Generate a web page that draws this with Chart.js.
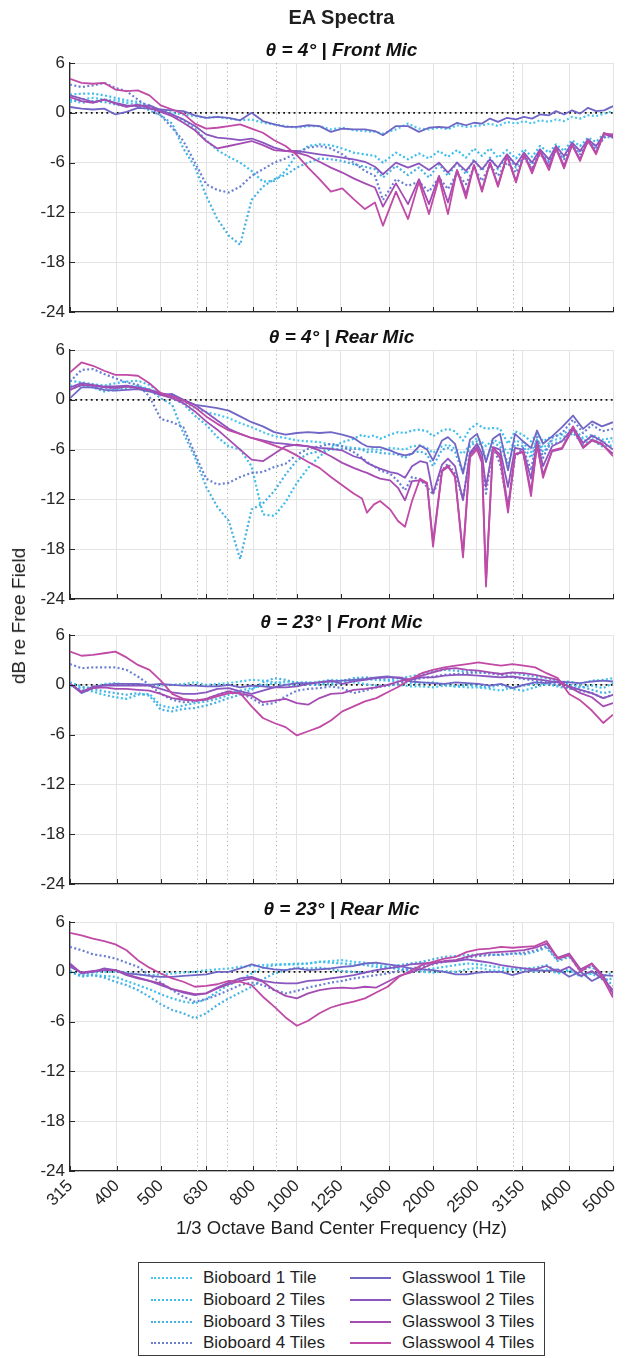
<!DOCTYPE html>
<html>
<head>
<meta charset="utf-8">
<title>EA Spectra</title>
<script src="https://cdn.jsdelivr.net/npm/chart.js@4.4.1/dist/chart.umd.min.js"></script>
<style>
  body { margin: 0; background: #fff; }
  #fig {
    position: relative; width: 627px; height: 1358px; overflow: hidden;
    font-family: "Liberation Sans", Arial, Helvetica, sans-serif; color: #1f1f1f;
  }
  #fig canvas { position: absolute; left: 0; }
  .main-title { position: absolute; left: 0; width: 683px; top: 5px; text-align: center; font-weight: bold; font-size: 20px; line-height: 24px; }
  .x-title { position: absolute; left: 0; width: 683px; top: 1217px; text-align: center; font-size: 18.5px; line-height: 22px; }
  .y-title { position: absolute; left: 19px; top: 616px; transform: translate(-50%, -50%) rotate(-90deg); white-space: nowrap; font-size: 19px; }
  #legend { position: absolute; left: 138px; top: 1262px; width: 405px; height: 92px; border: 1px solid #3a3a3a; background: #fff; }
  .item { position: absolute; height: 20px; font-size: 17px; line-height: 20px; white-space: nowrap; }
  .swatch { position: absolute; top: 9px; width: 41px; height: 0; }
  .label { position: absolute; top: 0; }
</style>
</head>
<body>
<div id="fig">
  <div class="main-title">EA Spectra</div>
  <div class="y-title">dB re Free Field</div>
  <div class="x-title">1/3 Octave Band Center Frequency (Hz)</div>
  <div id="legend"></div>
</div>
<script>
// frequency axis ticks and the dotted reference lines (Hz)
const xTicks = [315, 400, 500, 630, 800, 1000, 1250, 1600, 2000, 2500, 3150, 4000, 5000];
const yTicks = [-24, -18, -12, -6, 0, 6];
const refFreqs = [600, 700, 900, 3000];

const seriesNames = ['Bioboard 1 Tile', 'Bioboard 2 Tiles', 'Bioboard 3 Tiles', 'Bioboard 4 Tiles',
                     'Glasswool 1 Tile', 'Glasswool 2 Tiles', 'Glasswool 3 Tiles', 'Glasswool 4 Tiles'];
const seriesColors = ['#49c6ee', '#3dbdeb', '#46b0e4', '#6a7fd4', '#7066c6', '#8a56bf', '#a54cb3', '#c04aa6'];

// theta = 4 deg, front mic
const p1Freq = [315,334,354,375,397,420,445,472,500,530,561,595,630,667,707,749,794,841,891,944,
  1000,1059,1122,1189,1260,1335,1414,1488,1550,1656,1761,1862,1959,2062,2158,2260,2365,2464,2566,2673,
  2784,2915,3051,3178,3311,3448,3610,3741,3897,4059,4227,4403,4587,4778,5000];
const p1Bio1 = [1.3,1.6,1.8,1.6,1.5,1.2,1.0,0.8,0.3,0.0, -0.2,-0.4,-0.6,-0.5,-0.7,-0.9,-0.8,-1.2,-1.4,-1.6,
  -1.8,-1.6,-1.6,-2.0,-1.8,-2.1,-2.2,-2.3,-2.5,-2.0, -1.3,-1.9,-2.0,-1.8,-2.0,-1.5,-1.7,-1.6,-1.5,-1.3,
  -1.6,-1.1,-1.3,-1.0,-1.3,-0.9,-1.1,-0.8,-1.0,-0.5, -0.7,-0.3,-0.4,-0.1,0.2];
const p1Bio2 = [2.2,2.3,2.3,2.1,1.8,1.5,1.3,0.9,0.3,-0.3, -0.9,-1.9,-3.3,-4.5,-5.3,-6.0,-7.0,-8.3,-8.2,-7.0,
  -5.0,-4.0,-3.8,-3.9,-4.3,-4.8,-5.0,-5.2,-6.0,-4.8, -5.6,-4.9,-5.5,-4.6,-5.3,-4.5,-5.4,-4.3,-5.2,-4.3,
  -5.4,-4.5,-5.5,-4.4,-5.3,-4.0,-4.8,-3.8,-4.6,-3.3, -4.0,-3.0,-3.5,-2.5,-2.8];
const p1Bio3 = [1.6,1.2,1.4,1.3,1.0,0.8,0.9,0.3,-0.3,-1.3, -4.3,-6.5,-10.0,-12.8,-14.8,-15.9,-10.5,-8.9,-8.0,-7.5,
  -6.6,-6.0,-5.5,-5.6,-5.8,-6.2,-6.5,-6.8,-7.8,-6.4, -7.5,-6.6,-7.8,-6.2,-7.6,-6.0,-7.4,-5.6,-7.0,-5.4,
  -6.8,-5.2,-6.6,-5.0,-6.2,-4.6,-5.8,-4.3,-5.4,-3.8, -4.8,-3.4,-4.2,-2.9,-3.0];
const p1Bio4 = [3.4,3.1,3.3,3.6,3.0,2.6,1.6,0.6,-0.3,-1.8, -3.4,-6.0,-8.6,-9.3,-9.6,-8.9,-7.6,-6.8,-6.0,-5.5,
  -4.8,-4.2,-4.0,-4.3,-5.0,-6.0,-7.0,-7.6,-10.5,-8.0, -8.8,-8.3,-9.5,-7.8,-9.2,-7.3,-8.6,-6.6,-8.2,-6.3,
  -7.6,-6.0,-7.2,-5.5,-6.6,-5.0,-6.0,-4.6,-5.6,-4.0, -5.0,-3.6,-4.4,-3.0,-2.6];
const p1Glass1 = [0.7,0.5,0.4,0.5,-0.2,0.1,0.6,0.5,0.4,0.3, 0.2,-0.3,-0.6,-0.5,-0.6,-0.9,0.0,-1.0,-1.4,-1.7,
  -1.7,-1.5,-1.6,-2.3,-1.9,-2.0,-2.0,-2.2,-2.7,-1.6, -1.6,-2.3,-1.8,-1.7,-1.8,-1.2,-1.5,-1.2,-1.3,-0.7,
  -1.1,-0.6,-0.8,-0.5,-0.7,-0.2,-0.3,0.2,-0.2,0.3, -0.1,0.6,0.2,0.3,0.8];
const p1Glass2 = [2.1,1.7,1.3,1.6,1.2,0.9,0.8,0.9,0.3,-0.2, -0.8,-1.6,-2.6,-3.0,-3.1,-3.3,-3.1,-3.6,-4.2,-4.6,
  -4.6,-4.8,-5.0,-5.2,-5.4,-5.6,-5.9,-6.5,-7.4,-6.0, -6.6,-6.1,-6.9,-6.0,-7.2,-6.0,-7.0,-5.8,-6.8,-5.6,
  -6.6,-5.0,-6.3,-4.8,-6.0,-4.4,-5.6,-4.0,-5.2,-3.6, -4.6,-3.2,-4.0,-2.6,-2.8];
const p1Glass3 = [1.9,1.4,1.2,1.6,1.1,0.7,1.0,0.6,0.1,-0.4, -1.2,-2.1,-3.4,-4.3,-4.0,-3.7,-3.4,-3.9,-4.5,-4.6,
  -4.8,-5.2,-5.9,-6.6,-7.2,-7.9,-8.5,-9.0,-11.3,-8.5, -11.0,-8.0,-11.0,-7.6,-10.8,-6.9,-9.8,-6.3,-9.3,-6.0,
  -8.7,-5.1,-8.2,-5.0,-7.0,-4.6,-6.5,-4.2,-6.4,-3.8, -5.6,-3.2,-4.8,-2.4,-3.0];
const p1Glass4 = [4.1,3.6,3.5,3.6,2.8,2.6,2.7,2.1,0.9,0.4, -0.1,-1.3,-1.9,-1.8,-1.6,-1.4,-1.9,-2.4,-3.3,-4.0,
  -5.1,-6.6,-8.0,-9.5,-9.1,-10.4,-11.6,-10.8,-13.6,-9.5, -12.8,-8.3,-12.2,-7.9,-12.2,-6.9,-10.3,-6.3,-9.5,-6.0,
  -8.9,-5.2,-8.4,-5.0,-7.3,-4.7,-6.9,-4.3,-6.7,-3.9, -5.8,-3.3,-5.0,-2.5,-2.6];

// theta = 4 deg, rear mic
const p2Freq = [315,334,354,375,397,420,445,472,500,530,561,595,630,667,707,749,794,841,891,944,
  1000,1059,1122,1189,1260,1335,1393,1429,1481,1527,1607,1673,1734,1797,1872,1940,2000,2094,2158,2237,
  2330,2414,2502,2566,2619,2714,2813,2930,3036,3162,3294,3396,3502,3666,3857,4079,4293,4494,4728,5000];
const p2Bio1 = [1.7,1.6,1.5,1.4,1.3,1.6,1.7,1.3,0.7,0.3, -0.3,-1.0,-1.5,-1.8,-2.2,-2.8,-3.3,-3.9,-4.4,-4.6,
  -4.9,-5.0,-5.1,-5.4,-5.6,-5.8, -5.9,-6.0,-5.9,-6.1,-5.8,-5.9,-6.0,-5.6,-5.5,-5.8,
  -6.4,-5.6,-5.4,-5.9,-6.5,-5.4,-4.6,-5.1,-5.6,-4.8, -5.2,-6.4,-4.9,-5.2,-6.3,-4.8,-5.8,-4.9,-4.6,-3.8,
  -5.0,-4.5,-5.2,-5.0];
const p2Bio2 = [2.3,2.1,1.9,1.7,2.0,2.2,2.3,1.8,0.8,0.2, -0.5,-1.9,-3.0,-4.5,-5.6,-6.0,-8.0,-13.8,-14.0,-12.3,
  -10.0,-8.2,-6.8,-5.8,-5.1,-4.7, -4.2,-4.5,-4.3,-4.7,-4.2,-3.9,-4.0,-3.7,-3.6,-3.8,
  -4.4,-3.7,-3.5,-3.8,-4.9,-3.5,-2.9,-3.3,-3.5,-3.4, -3.5,-5.3,-3.8,-4.2,-5.0,-4.1,-5.0,-4.4,-4.2,-3.4,
  -4.6,-4.2,-4.8,-4.6];
const p2Bio3 = [1.2,1.8,1.5,1.0,1.2,1.4,1.6,1.2,0.2,-0.6, -4.0,-6.9,-10.5,-12.9,-14.6,-19.2,-13.2,-12.5,-11.0,-9.0,
  -7.3,-6.5,-6.2,-6.0,-5.9,-5.9, -6.0,-6.3,-6.2,-6.4,-6.5,-6.6,-7.0,-6.4,-6.2,-6.6,
  -8.0,-6.0,-5.8,-6.3,-8.8,-5.6,-5.0,-5.6,-7.2,-5.2, -5.6,-7.6,-5.4,-5.6,-7.0,-5.0,-6.3,-5.3,-5.0,-4.0,
  -5.4,-4.8,-5.6,-5.5];
const p2Bio4 = [2.2,3.6,3.7,3.1,2.6,2.1,1.8,0.4,-2.3,-2.7, -3.3,-6.5,-9.5,-10.2,-10.0,-9.3,-8.8,-8.7,-8.1,-7.7,
  -6.6,-5.9,-5.6,-5.3,-5.6,-6.3, -7.0,-7.5,-8.0,-8.5,-8.9,-9.8,-10.9,-9.3,-9.6,-10.5,
  -11.4,-8.5,-7.7,-8.9,-11.9,-6.8,-5.5,-7.5,-11.3,-5.7, -7.7,-12.9,-6.9,-5.8,-8.5,-4.5,-7.0,-4.6,-4.0,-2.4,
  -4.0,-3.0,-3.8,-3.5];
const p2Glass1 = [0.2,1.5,1.5,1.2,1.1,1.2,1.3,1.0,0.6,0.7, 0.0,-0.6,-0.8,-1.0,-1.3,-2.0,-2.7,-3.2,-3.9,-4.2,
  -4.0,-3.9,-4.0,-3.9,-4.2,-4.6, -5.3,-5.6,-5.7,-5.7,-6.1,-6.5,-6.7,-6.5,-5.5,-6.0,
  -7.3,-4.9,-4.5,-5.3,-8.9,-4.8,-4.1,-5.7,-7.5,-4.7, -4.1,-8.5,-4.1,-5.0,-5.8,-3.7,-5.3,-4.4,-3.3,-1.9,
  -3.5,-2.6,-3.2,-2.7];
const p2Glass2 = [1.5,2.0,1.8,1.6,1.6,1.7,1.5,1.2,0.8,0.5, 0.0,-0.6,-1.5,-2.5,-3.5,-4.1,-4.6,-4.9,-5.2,-5.3,
  -5.5,-5.6,-5.8,-5.9,-6.1,-6.8, -7.1,-7.6,-8.0,-8.3,-8.7,-8.9,-9.4,-8.0,-7.4,-7.6,
  -11.3,-7.8,-7.1,-8.0,-12.1,-6.4,-5.3,-6.5,-10.5,-5.7, -6.0,-10.5,-5.8,-6.0,-9.5,-5.0,-8.0,-5.6,-5.0,-3.3,
  -5.2,-4.3,-5.0,-6.0];
const p2Glass3 = [1.2,1.8,1.7,1.5,1.4,1.6,1.4,1.2,0.6,0.2, -0.4,-1.4,-2.6,-3.6,-4.8,-6.0,-7.2,-7.4,-6.5,-5.6,
  -5.4,-5.6,-6.1,-6.8,-7.6,-8.2, -8.6,-8.8,-9.2,-9.5,-9.7,-10.6,-12.1,-9.8,-9.7,-10.1,
  -17.1,-8.6,-8.1,-9.2,-18.5,-6.6,-5.7,-7.2,-21.8,-5.8, -6.6,-12.9,-6.6,-6.3,-11.0,-5.5,-9.0,-6.2,-5.9,-3.5,
  -5.8,-4.9,-5.4,-6.5];
const p2Glass4 = [3.3,4.5,4.1,3.5,3.0,3.0,2.9,2.0,0.8,0.4, -0.1,-0.9,-2.0,-2.9,-3.7,-4.1,-4.6,-5.0,-5.5,-6.0,
  -6.7,-7.5,-8.2,-9.3,-10.3,-11.3, -11.9,-13.6,-12.6,-12.2,-13.2,-14.6,-15.3,-12.2,-9.5,-10.0,
  -17.7,-8.5,-7.9,-9.3,-19.0,-6.9,-6.0,-7.6,-22.5,-5.8, -7.0,-13.6,-6.5,-6.2,-11.6,-5.3,-9.4,-6.1,-5.8,-3.2,
  -5.7,-4.8,-5.3,-6.8];

// theta = 23 deg panels share a 1/12-octave grid
const gridFreq = [315,334,354,375,397,420,445,472,500,530,561,595,630,667,707,749,794,841,891,944,
  1000,1059,1122,1189,1260,1335,1414,1498,1587,1682,1782,1888,2000,2119,2245,2378,2520,2670,2828,2997,
  3175,3364,3564,3776,4000,4238,4490,4757,5000];

// theta = 23 deg, front mic
const p3Bio1 = [-0.1,-0.4,-0.3,0.1,0.2,0.0,0.0,-0.1,-0.1,0.0, 0.1,0.3,0.0,0.1,0.2,0.4,0.6,0.5,0.3,0.0,
  -0.1,0.1,0.4,0.6,0.5,0.3,0.1,-0.1,-0.1,0.0, -0.2,-0.2,-0.3,-0.1,-0.2,-0.3,-0.3,-0.5,-0.7,-0.3,
  -0.1,0.1,0.2,0.3,0.4,0.1,0.5,0.6,0.8];
const p3Bio2 = [0.0,-0.6,-0.8,-1.2,-1.5,-1.7,-1.2,-1.1,-2.5,-2.8, -2.5,-2.2,-2.0,-1.7,-1.2,-0.7,-0.4,-0.1,0.2,0.4,
  0.3,0.3,0.2,0.0,0.3,0.6,0.7,0.6,0.5,0.4, 0.2,0.2,0.3,0.0,-0.2,0.0,-0.2,-0.3,0.0,-0.5,
  -0.7,-0.3,0.1,-0.2,-0.5,-0.3,-0.1,-0.4,0.2];
const p3Bio3 = [0.3,-0.2,-0.5,-0.8,-1.0,-1.2,-1.0,-1.3,-3.0,-3.2, -2.9,-2.8,-2.5,-2.1,-1.6,-1.2,-0.6,0.3,0.8,0.6,
  0.2,0.0,0.0,0.2,0.5,0.8,0.9,0.8,0.6,0.8, 1.0,1.3,1.6,1.8,1.7,1.6,1.5,1.4,1.3,1.4,
  1.2,1.0,0.8,0.5,0.0,-0.2,-0.6,-1.0,-0.8];
const p3Bio4 = [2.5,2.0,2.1,2.1,2.1,1.8,1.0,0.0,-1.1,-1.8, -2.1,-2.0,-1.7,-1.2,-0.8,-1.0,-1.6,-2.4,-2.2,-1.4,
  -0.7,-0.5,-0.4,-0.2,-0.4,-1.0,-0.7,-0.3,-0.1,0.2, 0.5,0.8,1.0,1.2,1.3,1.4,1.5,1.4,1.2,0.9,
  0.7,0.5,0.3,0.0,-0.4,-0.7,-1.0,-1.6,-1.2];
const p3Glass1 = [0.1,-1.0,-0.4,0.0,0.1,0.1,0.1,0.0,0.1,0.0, -0.1,-0.1,-0.2,-0.2,0.0,-0.3,-0.1,-0.2,-0.3,0.0,
  0.2,0.2,0.3,0.4,0.5,0.6,0.7,0.9,1.0,0.8, 0.4,0.3,0.2,0.1,0.3,0.2,0.1,-0.1,0.1,-0.4,
  0.0,0.3,0.2,0.4,0.3,0.2,0.4,0.5,0.4];
const p3Glass2 = [0.1,-0.9,-0.2,-0.1,-0.1,-0.1,-0.1,-0.1,-0.5,-0.9, -1.1,-1.1,-0.9,-0.5,-0.4,-0.8,-1.1,-0.7,-0.3,-0.3,
  -0.2,0.1,0.3,0.5,0.1,0.4,0.6,0.8,0.9,0.9, 0.6,0.9,0.9,1.1,1.2,1.2,1.1,1.0,0.9,1.0,
  0.8,0.7,0.5,0.3,-0.2,-0.6,-1.0,-1.6,-1.2];
const p3Glass3 = [0.1,-0.8,-0.4,-0.3,-0.5,-0.5,-0.6,-0.7,-1.1,-1.6, -1.8,-1.9,-1.7,-1.2,-0.8,-1.1,-1.3,-2.1,-1.9,-1.7,
  -2.2,-2.4,-1.6,-1.1,-1.0,-0.6,-0.5,-0.3,0.0,0.4, 0.7,1.1,1.5,1.9,2.0,1.8,1.7,1.5,1.3,1.5,
  1.4,1.2,0.9,0.6,-0.3,-1.0,-1.5,-2.6,-2.2];
const p3Glass4 = [4.0,3.5,3.6,3.8,4.0,3.3,2.4,1.8,0.5,-1.1, -1.7,-1.9,-1.8,-1.4,-1.0,-1.0,-2.6,-4.0,-4.6,-5.1,
  -6.1,-5.6,-5.1,-4.3,-3.2,-2.6,-2.0,-1.6,-0.9,-0.2, 0.7,1.4,1.8,2.1,2.3,2.5,2.7,2.5,2.3,2.5,
  2.3,2.1,1.4,0.8,-1.1,-1.9,-3.1,-4.6,-3.6];

// theta = 23 deg, rear mic
const p4Bio1 = [0.0,-0.4,-0.1,0.0,0.0,-0.1,-0.3,-0.4,-0.3,-0.2, -0.1,0.0,0.2,0.3,0.4,0.6,0.7,0.8,0.9,0.9,
  1.0,1.0,1.2,1.3,1.4,1.2,1.1,0.9,0.6,0.4, 0.2,0.0,-0.1,0.1,0.0,0.3,0.5,0.2,0.1,0.3,
  0.2,0.0,0.3,-0.2,0.1,-0.4,-0.1,-0.5,-0.1];
const p4Bio2 = [0.0,-0.6,-0.4,-0.5,-0.6,-1.1,-1.6,-2.1,-2.7,-3.2, -3.6,-3.8,-3.3,-2.4,-1.6,-1.0,-0.2,0.5,0.8,0.9,
  0.9,1.0,1.2,1.1,1.0,0.9,0.8,0.6,0.5,0.3, 0.1,0.2,0.4,0.6,0.8,1.0,0.9,0.7,0.5,0.3,
  0.4,0.5,0.8,0.0,0.3,-0.6,-0.2,-1.0,-0.8];
const p4Bio3 = [0.1,-0.5,-0.4,-0.7,-1.2,-1.6,-2.2,-3.0,-3.9,-4.6, -5.0,-5.6,-5.0,-4.0,-3.2,-2.5,-1.8,-0.9,-0.2,0.2,
  0.5,0.4,0.5,0.3,0.1,0.0,-0.1,0.2,0.5,0.8, 1.0,1.2,1.5,1.8,1.9,2.0,2.1,2.1,2.0,2.2,
  2.1,2.4,2.9,1.3,1.8,0.2,0.6,-0.5,-1.7];
const p4Bio4 = [3.0,2.6,2.1,1.9,1.6,1.1,0.6,-0.4,-1.3,-2.2, -3.0,-3.6,-3.3,-2.8,-2.2,-1.6,-1.3,-1.6,-2.2,-2.6,
  -2.3,-1.9,-1.6,-1.3,-1.1,-0.8,-0.6,-0.4,-0.2,0.1, 0.4,0.6,0.9,1.2,1.4,1.7,1.9,2.0,2.1,2.2,
  2.3,2.6,3.1,1.4,2.0,0.0,0.8,-0.7,-2.8];
const p4Glass1 = [0.6,-0.1,0.0,0.2,0.2,-0.2,-0.3,-0.5,-0.6,-0.6, -0.5,-0.4,-0.3,0.0,0.0,0.4,0.9,0.5,0.3,0.2,
  0.4,0.2,0.3,0.4,0.6,0.7,1.0,1.1,0.9,0.7, 0.4,0.3,0.2,0.0,-0.3,-0.3,-0.1,0.0,0.0,-0.4,
  0.0,0.2,0.1,0.3,-0.6,0.0,-1.1,-0.4,-0.5];
const p4Glass2 = [1.0,-0.2,0.0,0.4,0.2,-0.4,-0.8,-1.1,-1.6,-2.1, -2.5,-2.8,-2.6,-1.9,-1.3,-0.8,-0.6,-1.1,-1.3,-1.4,
  -1.4,-1.1,-1.0,-0.8,-0.6,-0.4,-0.1,0.2,0.4,0.6, 0.9,1.0,1.1,1.2,1.3,1.5,1.3,1.1,0.8,0.6,
  0.4,0.3,0.7,0.0,0.6,-0.5,0.1,-0.9,-2.2];
const p4Glass3 = [0.8,-0.1,0.1,0.2,0.2,-0.3,-0.7,-1.1,-1.4,-2.1, -2.4,-2.7,-2.6,-2.0,-1.5,-1.1,-0.8,-1.2,-2.2,-2.9,
  -3.2,-2.6,-2.2,-2.0,-1.9,-2.0,-1.8,-1.9,-1.2,-0.5, -0.1,0.4,1.0,1.3,1.4,1.8,2.1,2.3,2.4,2.5,
  2.6,2.9,3.4,1.7,2.2,0.3,1.0,-0.5,-2.6];
const p4Glass4 = [4.7,4.4,4.0,3.7,3.3,2.6,1.4,0.5,-0.2,-0.8, -1.2,-1.8,-1.7,-1.5,-1.1,-1.2,-1.6,-3.0,-4.2,-5.5,
  -6.5,-5.9,-5.0,-4.3,-3.9,-3.6,-3.2,-2.5,-1.8,-0.6, 0.1,0.8,1.2,1.6,1.8,2.4,2.7,2.8,3.0,2.9,
  3.0,3.1,3.7,1.6,2.0,0.0,1.0,-0.9,-3.1];

const panels = [
  { title: 'θ = 4° | Front Mic', top: 63, freq: p1Freq,
    values: [p1Bio1, p1Bio2, p1Bio3, p1Bio4, p1Glass1, p1Glass2, p1Glass3, p1Glass4] },
  { title: 'θ = 4° | Rear Mic', top: 349.5, freq: p2Freq,
    values: [p2Bio1, p2Bio2, p2Bio3, p2Bio4, p2Glass1, p2Glass2, p2Glass3, p2Glass4] },
  { title: 'θ = 23° | Front Mic', top: 634.5, freq: gridFreq,
    values: [p3Bio1, p3Bio2, p3Bio3, p3Bio4, p3Glass1, p3Glass2, p3Glass3, p3Glass4] },
  { title: 'θ = 23° | Rear Mic', top: 921.5, freq: gridFreq,
    values: [p4Bio1, p4Bio2, p4Bio3, p4Bio4, p4Glass1, p4Glass2, p4Glass3, p4Glass4] }
];

const FONT = '"Liberation Sans", Arial, Helvetica, sans-serif';
const AXIS = '#262626';
const GRID = '#e4e4e4';
const PLOT_H = 249;
const PAD_TOP = 30;
const AXIS_LEFT = 70;

// zero line, dotted band markers, inward tick marks and the panel heading
const panelDecor = {
  id: 'panelDecor',
  beforeDatasetsDraw(chart) {
    const { ctx, chartArea: a, scales: { x, y } } = chart;
    ctx.save();
    ctx.lineWidth = 1;
    ctx.strokeStyle = '#b0b0b0';
    ctx.setLineDash([1.2, 3]);
    refFreqs.forEach(f => {
      const px = Math.round(x.getPixelForValue(f)) + 0.5;
      ctx.beginPath(); ctx.moveTo(px, a.top); ctx.lineTo(px, a.bottom); ctx.stroke();
    });
    ctx.strokeStyle = '#111';
    ctx.lineWidth = 1.8;
    ctx.setLineDash([1.8, 3.4]);
    const y0 = y.getPixelForValue(0);
    ctx.beginPath(); ctx.moveTo(a.left, y0); ctx.lineTo(a.right, y0); ctx.stroke();
    ctx.restore();
  },
  afterDraw(chart, args, opts) {
    const { ctx, chartArea: a, scales: { x, y } } = chart;
    ctx.save();
    ctx.strokeStyle = AXIS;
    ctx.lineWidth = 1;
    ctx.beginPath();
    xTicks.forEach(v => {
      const px = Math.round(x.getPixelForValue(v)) + 0.5;
      ctx.moveTo(px, a.bottom); ctx.lineTo(px, a.bottom - 5);
    });
    yTicks.forEach(v => {
      const py = Math.round(y.getPixelForValue(v)) + 0.5;
      ctx.moveTo(a.left, py); ctx.lineTo(a.left + 5, py);
    });
    ctx.stroke();
    ctx.fillStyle = '#111';
    ctx.font = 'italic bold 19px ' + FONT;
    ctx.textAlign = 'center';
    ctx.textBaseline = 'middle';
    ctx.fillText(opts.title, (a.left + a.right) / 2, a.top - 12);
    ctx.restore();
  }
};

const fig = document.getElementById('fig');

panels.forEach((p, idx) => {
  const showLabels = idx === panels.length - 1;
  const bottomRoom = showLabels ? 62 : 12;
  const canvas = document.createElement('canvas');
  canvas.width = 627;
  canvas.height = PAD_TOP + PLOT_H + bottomRoom;
  canvas.style.top = (p.top - PAD_TOP) + 'px';
  fig.insertBefore(canvas, fig.firstChild);

  const datasets = p.values.map((vals, i) => ({
    label: seriesNames[i],
    data: p.freq.map((f, j) => ({ x: f, y: vals[j] })),
    borderColor: seriesColors[i],
    borderWidth: i < 4 ? 2.2 : 1.8,
    borderDash: i < 4 ? [2, 2.4] : [],
    borderCapStyle: 'butt',
    borderJoinStyle: 'round',
    pointRadius: 0,
    tension: 0,
    fill: false,
    order: 7 - i
  }));

  new Chart(canvas, {
    type: 'line',
    data: { datasets },
    options: {
      responsive: false,
      animation: false,
      events: [],
      layout: { padding: { top: PAD_TOP, right: 14, left: 0, bottom: 0 } },
      plugins: {
        legend: { display: false },
        tooltip: { enabled: false },
        panelDecor: { title: p.title }
      },
      scales: {
        x: {
          type: 'logarithmic',
          min: 315,
          max: 5000,
          afterBuildTicks: s => { s.ticks = xTicks.map(v => ({ value: v })); s.min = 315; s.max = 5000; },
          afterFit: s => { s.height = bottomRoom; s.paddingLeft = 0; s.paddingRight = 0; },
          grid: { color: GRID, lineWidth: 1, drawTicks: false },
          border: { display: true, color: AXIS, width: 1.3 },
          ticks: {
            display: showLabels,
            autoSkip: false,
            maxRotation: 45,
            minRotation: 45,
            padding: 5,
            color: AXIS,
            font: { family: FONT, size: 17 },
            callback: v => String(v)
          }
        },
        y: {
          min: -24,
          max: 6,
          afterBuildTicks: s => { s.ticks = yTicks.map(v => ({ value: v })); },
          afterFit: s => { s.width = AXIS_LEFT; s.paddingTop = 0; s.paddingBottom = 0; },
          grid: { color: GRID, lineWidth: 1, drawTicks: false },
          border: { display: true, color: AXIS, width: 1.3 },
          ticks: { padding: 5, color: AXIS, font: { family: FONT, size: 17 } }
        }
      }
    },
    plugins: [panelDecor]
  });
});

// legend: Bioboard in the left column, Glasswool in the right one
const legend = document.getElementById('legend');
seriesNames.forEach((name, i) => {
  const col = i < 4 ? 0 : 1;
  const row = i % 4;
  const item = document.createElement('div');
  item.className = 'item';
  item.style.left = (col ? 211 : 12) + 'px';
  item.style.top = (5 + row * 21.8) + 'px';
  const sw = document.createElement('span');
  sw.className = 'swatch';
  sw.style.left = '0px';
  sw.style.borderTop = i < 4 ? '2px dotted ' + seriesColors[i] : '2px solid ' + seriesColors[i];
  const lab = document.createElement('span');
  lab.className = 'label';
  lab.style.left = '52px';
  lab.textContent = name;
  item.appendChild(sw);
  item.appendChild(lab);
  legend.appendChild(item);
});
</script>
</body>
</html>
